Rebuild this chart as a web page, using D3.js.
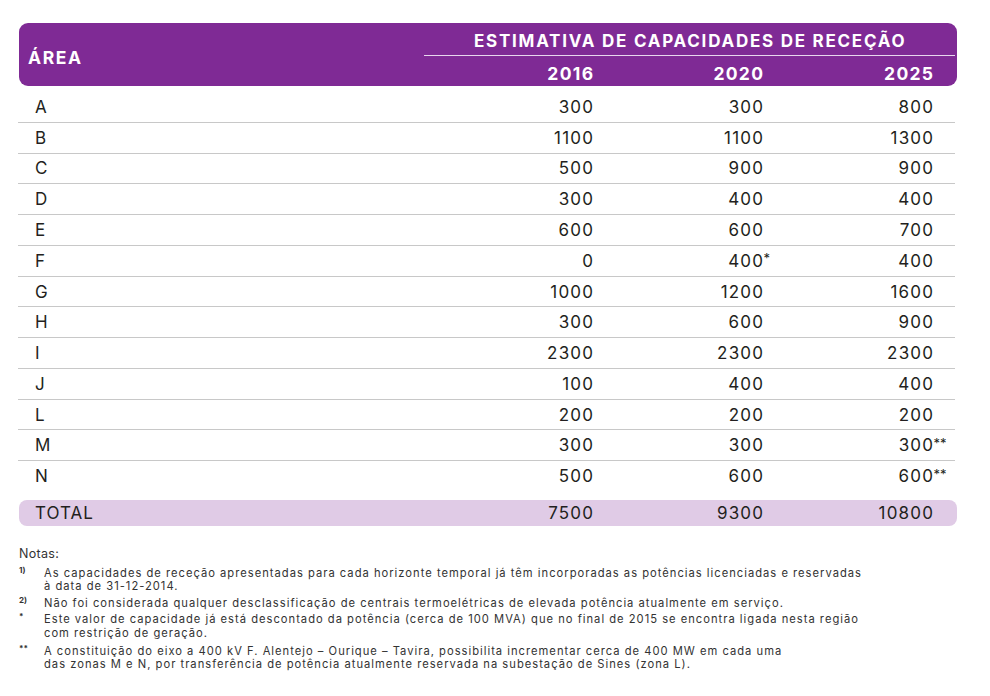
<!DOCTYPE html>
<html><head><meta charset="utf-8">
<script src="https://cdn.jsdelivr.net/npm/d3@7"></script>
<style>body{margin:0;background:#fff}svg{display:block}</style>
</head><body>
<script>
const areas = ["A","B","C","D","E","F","G","H","I","J","L","M","N"];
const years = ["2016","2020","2025"];
const v2016 = [300,1100,500,300,600,0,1000,300,2300,100,200,300,500];
const v2020 = [300,1100,900,400,600,400,1200,600,2300,400,200,300,600];
const v2025 = [800,1300,900,400,700,400,1600,900,2300,400,200,300,600];
const marks2020 = ["","","","","","*","","","","","","",""];
const marks2025 = ["","","","","","","","","","","","**","**"];
const totals = [7500,9300,10800];
const headerArea = "ÁREA";
const headerGroup = "ESTIMATIVA DE CAPACIDADES DE RECEÇÃO";
const totalLabel = "TOTAL";
const notesTitle = "Notas:";
const noteMarks = ["1)","2)","*","**"];
const noteLines = [
  ["As capacidades de receção apresentadas para cada horizonte temporal já têm incorporadas as potências licenciadas e reservadas","à data de 31-12-2014."],
  ["Não foi considerada qualquer desclassificação de centrais termoelétricas de elevada potência atualmente em serviço."],
  ["Este valor de capacidade já está descontado da potência (cerca de 100 MVA) que no final de 2015 se encontra ligada nesta região","com restrição de geração."],
  ["A constituição do eixo a 400 kV F. Alentejo – Ourique – Tavira, possibilita incrementar cerca de 400 MW em cada uma","das zonas M e N, por transferência de potência atualmente reservada na subestação de Sines (zona L)."]
];

const W = 990, H = 696;
const FONT = "Inter, 'Open Sans', sans-serif";
const purple = "#7f2a95", lav = "#e0cbe6", ink = "#231f20";
const svg = d3.select("body").append("svg").attr("width", W).attr("height", H)
  .style("font-family", FONT);

const series = [v2016, v2020, v2025];
const marks = [marks2020.map(()=>""), marks2020, marks2025];
const x = d3.scalePoint().domain(years).range([593, 933]);
const y = d3.scaleBand().domain(areas).range([91, 491]);
const LS = 1.2; // letter spacing for numbers

// header
svg.append("rect").attr("x",19).attr("y",23).attr("width",938).attr("height",63)
  .attr("rx",9).attr("fill",purple);
svg.append("text").attr("x",28).attr("y",64).text(headerArea)
  .attr("fill","#fff").attr("font-weight",700).attr("font-size",17.5).attr("letter-spacing",1.6);
svg.append("text").attr("x",474).attr("y",47).text(headerGroup)
  .attr("fill","#fff").attr("font-weight",700).attr("font-size",17).attr("letter-spacing",1.75);
svg.append("line").attr("x1",424).attr("x2",955).attr("y1",55.5).attr("y2",55.5)
  .attr("stroke","#e8d6ee").attr("stroke-width",1);
svg.selectAll("text.yr").data(years).join("text").attr("class","yr")
  .attr("x",d=>x(d)+1.3).attr("y",80).attr("text-anchor","end").text(d=>d)
  .attr("fill","#fff").attr("font-weight",700).attr("font-size",17.5).attr("letter-spacing",1.3);

// row separators
svg.selectAll("line.sep").data(areas.slice(0,-1)).join("line").attr("class","sep")
  .attr("x1",18).attr("x2",955)
  .attr("y1",d=>Math.round(y(d)+y.bandwidth())+0.5).attr("y2",d=>Math.round(y(d)+y.bandwidth())+0.5)
  .attr("stroke","#c8c8c8").attr("stroke-width",1);

// row labels
svg.selectAll("text.lab").data(areas).join("text").attr("class","lab")
  .attr("x",35).attr("y",d=>y(d)+y.bandwidth()/2+6.5).text(d=>d)
  .attr("fill",ink).attr("font-size",17).attr("letter-spacing",1);

// values
years.forEach((yr,ci)=>{
  const g = svg.append("g");
  g.selectAll("text").data(areas).join("text")
    .attr("x",x(yr)+LS).attr("y",(d)=>y(d)+y.bandwidth()/2+6.5).attr("text-anchor","end")
    .text((d,i)=>series[ci][i]).attr("fill",ink).attr("font-size",17).attr("letter-spacing",LS);
  g.selectAll("text.mk").data(areas.filter((d,i)=>marks[ci][i])).join("text").attr("class","mk")
    .attr("x",x(yr)+0.5).attr("y",d=>y(d)+y.bandwidth()/2+3)
    .text(d=>marks[ci][areas.indexOf(d)]).attr("fill",ink).attr("font-size",13);
});

// total
svg.append("rect").attr("x",19).attr("y",500).attr("width",938).attr("height",26)
  .attr("rx",8).attr("fill",lav);
svg.append("text").attr("x",35).attr("y",519).text(totalLabel).attr("fill",ink)
  .attr("font-size",17).attr("letter-spacing",1);
svg.selectAll("text.tot").data(years).join("text").attr("class","tot")
  .attr("x",d=>x(d)+LS).attr("y",519).attr("text-anchor","end").text((d,i)=>totals[i])
  .attr("fill",ink).attr("font-size",17).attr("letter-spacing",LS);

// notes
svg.append("text").attr("x",19).attr("y",558).text(notesTitle).attr("fill","#333")
  .attr("font-size",12.5).attr("letter-spacing",0.3);
const noteY = [576.5, 606.5, 623, 654.5];
noteLines.forEach((lines,i)=>{
  svg.append("text").attr("x",19).attr("y",noteY[i]-4).text(noteMarks[i])
    .attr("fill","#333").attr("font-size",8).attr("font-weight",700);
  const t = svg.append("text").attr("x",44).attr("y",noteY[i])
    .attr("fill","#333").attr("font-size",11.2).attr("letter-spacing",1.0);
  t.selectAll("tspan").data(lines).join("tspan")
    .attr("x",44).attr("dy",(d,j)=>j===0?0:13.6).text(d=>d);
});
</script>
</body></html>
